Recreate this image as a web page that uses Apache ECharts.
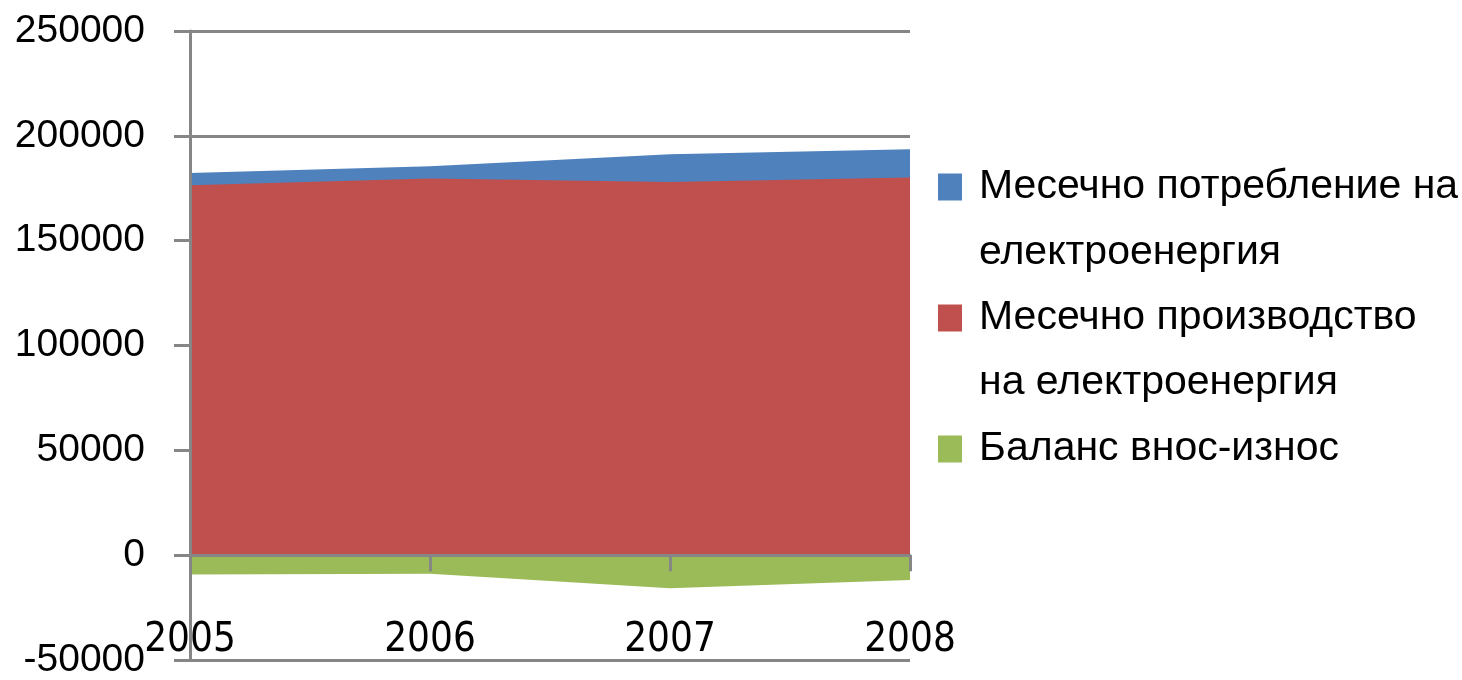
<!DOCTYPE html>
<html>
<head>
<meta charset="utf-8">
<script src="https://cdn.jsdelivr.net/npm/echarts@6/dist/echarts.min.js"></script>
<style>html,body{margin:0;padding:0;background:#fff;}#c{width:1462px;height:680px;}</style>
</head>
<body>
<div id="c"></div>
<script>
const years = ['2005', '2006', '2007', '2008'];
const consumption = [182300, 185500, 191200, 193600];
const production = [176400, 179600, 178000, 180100];
const balance = [-9200, -8900, -15800, -11800];
const seriesNames = ['Месечно потребление на електроенергия', 'Месечно производство на електроенергия', 'Баланс внос-износ'];
const legendLine1 = ['Месечно потребление на', 'Месечно производство', 'Баланс внос-износ'];
const legendLine2 = ['електроенергия', 'на електроенергия'];
const yTicks = { min: -50000, max: 250000, interval: 50000 };

const colors = ['#4F81BD', '#C0504D', '#9BBB59'];
const gray = '#868686';
const chart = echarts.init(document.getElementById('c'));
const legendText = { fontFamily: "'Liberation Sans', Arial, sans-serif", fontSize: 41, lineHeight: 44, color: '#000', padding: [0, 0, 0, 12] };
chart.setOption({
  animation: false,
  color: colors,
  grid: { left: 190, right: 552, top: 31, bottom: 20, containLabel: false, outerBoundsMode: 'none' },
  legend: [
    {
      orient: 'vertical', left: 938, top: 165, padding: 0, itemGap: 87,
      itemWidth: 24, itemHeight: 27, icon: 'rect', selectedMode: false,
      data: seriesNames,
      formatter: function (name) { return legendLine1[seriesNames.indexOf(name)]; },
      textStyle: legendText
    },
    {
      orient: 'vertical', left: 938, top: 231, padding: 0, itemGap: 86,
      itemWidth: 24, itemHeight: 27, icon: 'none', selectedMode: false,
      data: seriesNames.slice(0, 2),
      formatter: function (name) { return legendLine2[seriesNames.indexOf(name)]; },
      textStyle: legendText
    }
  ],
  xAxis: [
    {
      type: 'category', data: years, boundaryGap: false, z: 5,
      axisLine: { onZero: true, onZeroAxisIndex: 0, lineStyle: { color: gray, width: 3 } },
      axisTick: { show: true, interval: 0, length: 16, lineStyle: { color: gray, width: 3 } },
      axisLabel: { show: false },
      splitLine: { show: false }
    },
    {
      type: 'category', data: years, boundaryGap: false, position: 'bottom', z: 5,
      axisLine: { show: false, onZero: false },
      axisTick: { show: false },
      axisLabel: { margin: -39, interval: 0, fontFamily: "'DejaVu Sans Condensed', 'Liberation Sans Narrow', sans-serif", fontSize: 40, color: '#000' },
      splitLine: { show: false }
    }
  ],
  yAxis: [
    {
      type: 'value', min: yTicks.min, max: yTicks.max, interval: yTicks.interval,
      axisLine: { show: false }, axisTick: { show: false }, axisLabel: { show: false },
      splitLine: { show: true, lineStyle: { color: gray, width: 3 } }
    },
    {
      type: 'value', min: yTicks.min, max: yTicks.max, interval: yTicks.interval, position: 'left', z: 5,
      axisLine: { show: true, onZero: false, lineStyle: { color: gray, width: 3 } },
      axisTick: { show: true, length: 16, lineStyle: { color: gray, width: 3 } },
      axisLabel: { margin: 45, fontFamily: "'Liberation Sans', Arial, sans-serif", fontSize: 39, color: '#000', formatter: function (v) { return String(v); } },
      splitLine: { show: false }
    }
  ],
  series: [
    { name: seriesNames[0], type: 'line', data: consumption, symbol: 'none', lineStyle: { width: 0 }, areaStyle: { color: colors[0], opacity: 1 } },
    { name: seriesNames[1], type: 'line', data: production, symbol: 'none', lineStyle: { width: 0 }, areaStyle: { color: colors[1], opacity: 1 } },
    { name: seriesNames[2], type: 'line', data: balance, symbol: 'none', lineStyle: { width: 0 }, areaStyle: { color: colors[2], opacity: 1 } }
  ]
});
</script>
</body>
</html>
